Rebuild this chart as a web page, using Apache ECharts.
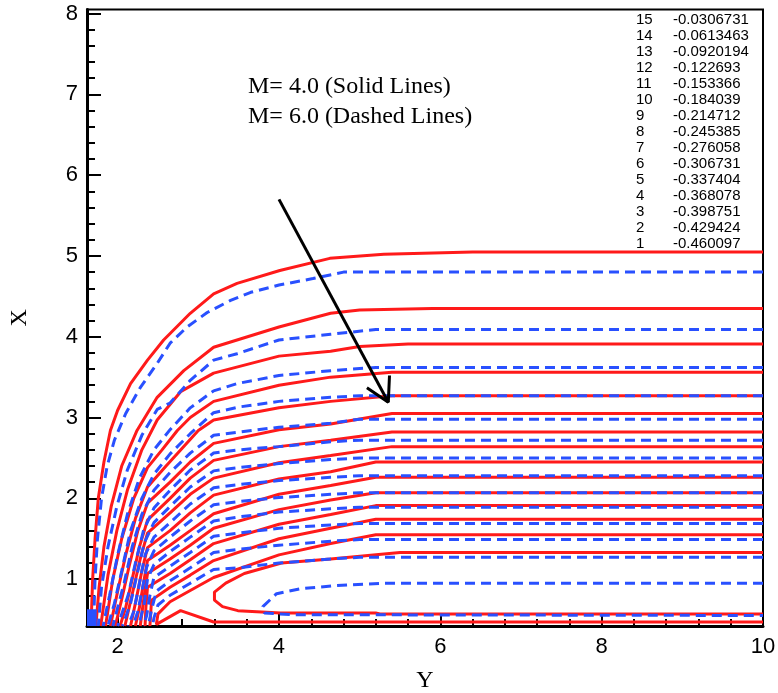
<!DOCTYPE html>
<html><head><meta charset="utf-8">
<script src="https://cdn.jsdelivr.net/npm/echarts@6/dist/echarts.min.js"></script>
<style>html,body{margin:0;padding:0;background:#fff}#c{width:778px;height:693px}</style>
</head><body><div id="c"></div>
<script>
// ---- tick labels ----
const xMajor = [2, 4, 6, 8, 10];
const xMinor = [2.4, 2.8, 3.2, 3.6, 4.4, 4.8, 5.2, 5.6, 6.4, 6.8, 7.2, 7.6, 8.4, 8.8, 9.2, 9.6];
const yMajor = [1, 2, 3, 4, 5, 6, 7, 8];
const yMinor = [0.6, 0.8, 1.2, 1.4, 1.6, 1.8, 2.2, 2.4, 2.6, 2.8, 3.2, 3.4, 3.6, 3.8, 4.2, 4.4, 4.6, 4.8, 5.2, 5.4, 5.6, 5.8, 6.2, 6.4, 6.6, 6.8, 7.2, 7.4, 7.6, 7.8];
// ---- contour legend ----
const levelIds = ['15','14','13','12','11','10','9','8','7','6','5','4','3','2','1'];
const levelVals = ['-0.0306731','-0.0613463','-0.0920194','-0.122693','-0.153366','-0.184039','-0.214712','-0.245385','-0.276058','-0.306731','-0.337404','-0.368078','-0.398751','-0.429424','-0.460097'];
const noteLines = ['M= 4.0 (Solid Lines)', 'M= 6.0 (Dashed Lines)'];
// ---- arrow (data coords) ----
const arrowShaft = [[4.0, 5.7], [5.355, 3.19]];
const arrowHead = [[5.09, 3.37], [5.355, 3.19], [5.37, 3.52]];
// ---- dense blue spot in the lower-left corner ----
const cornerBlock = [[1.62, 0.62], [1.74, 0.62]];

// ---- M = 4.0 contours (solid red) ----
const red15 = [[10,5.05],[6.4,5.05],[5.3,5.02],[4.63,4.97],[4.01,4.82],[3.48,4.66],[3.19,4.53],[2.9,4.29],[2.57,3.96],[2.37,3.71],[2.16,3.42],[2.0,3.09],[1.91,2.84],[1.83,2.45],[1.76,2.0],[1.72,1.5],[1.69,1.0],[1.67,0.42]];
const red14 = [[10,4.35],[5.9,4.35],[5.0,4.33],[4.64,4.29],[4.0,4.12],[3.19,3.87],[2.82,3.58],[2.49,3.25],[2.24,2.84],[2.05,2.4],[1.92,1.9],[1.83,1.4],[1.77,0.9],[1.73,0.42]];
const red13 = [[10,3.91],[5.6,3.91],[5.0,3.88],[4.64,3.82],[4.0,3.76],[3.19,3.55],[2.78,3.32],[2.49,2.97],[2.3,2.6],[2.12,2.1],[1.99,1.6],[1.88,1.05],[1.79,0.42]];
const red12 = [[10,3.56],[5.4,3.56],[4.64,3.5],[4.0,3.4],[3.19,3.2],[2.9,3.0],[2.74,2.84],[2.55,2.6],[2.37,2.38],[2.2,2.0],[2.05,1.5],[1.94,1.0],[1.85,0.42]];
const red11 = [[10,3.27],[5.4,3.27],[4.64,3.2],[4.0,3.12],[3.19,2.97],[3.0,2.84],[2.8,2.62],[2.6,2.4],[2.37,2.14],[2.22,1.75],[2.1,1.3],[2.0,0.85],[1.91,0.42]];
const red10 = [[10,3.05],[5.4,3.05],[4.64,2.92],[4.0,2.85],[3.19,2.68],[2.9,2.45],[2.65,2.2],[2.37,1.94],[2.25,1.6],[2.14,1.15],[2.05,0.75],[1.97,0.42]];
const red9 = [[10,2.82],[5.4,2.82],[4.64,2.72],[4.0,2.64],[3.19,2.47],[2.9,2.25],[2.65,2.0],[2.37,1.73],[2.27,1.4],[2.18,1.0],[2.1,0.65],[2.03,0.42]];
const red8 = [[10,2.64],[5.4,2.64],[4.64,2.53],[4.0,2.44],[3.19,2.25],[2.9,2.05],[2.65,1.82],[2.37,1.57],[2.28,1.25],[2.2,0.9],[2.09,0.42]];
const red7 = [[10,2.45],[5.2,2.45],[4.64,2.33],[4.0,2.24],[3.19,2.04],[2.9,1.82],[2.65,1.6],[2.37,1.39],[2.3,1.1],[2.23,0.75],[2.16,0.42]];
const red6 = [[10,2.26],[5.2,2.26],[4.64,2.16],[4.0,2.05],[3.19,1.81],[2.9,1.6],[2.65,1.42],[2.37,1.23],[2.32,0.95],[2.27,0.65],[2.22,0.42]];
const red5 = [[10,2.07],[5.2,2.07],[4.64,1.98],[4.0,1.86],[3.19,1.63],[2.9,1.42],[2.65,1.25],[2.37,1.07],[2.33,0.8],[2.28,0.42]];
const red4 = [[10,1.91],[5.2,1.91],[4.64,1.8],[4.0,1.68],[3.19,1.44],[2.9,1.24],[2.65,1.07],[2.37,0.9],[2.35,0.65],[2.34,0.42]];
const red3 = [[10,1.74],[5.2,1.74],[4.64,1.63],[4.0,1.5],[3.19,1.23],[2.9,1.05],[2.65,0.9],[2.42,0.74],[2.4,0.42]];
const red2 = [[10,1.55],[5.2,1.55],[4.64,1.44],[4.0,1.3],[3.19,1.02],[2.9,0.86],[2.65,0.72],[2.5,0.57],[2.48,0.44],[2.78,0.61],[3.19,0.47],[10,0.47]];
const red1 = [[10,1.33],[5.5,1.33],[4.64,1.25],[4.03,1.2],[3.57,1.07],[3.34,0.95],[3.2,0.84],[3.2,0.74],[3.3,0.66],[3.49,0.61],[4.02,0.58],[5.2,0.58],[5.25,0.57],[10,0.57]];

// ---- M = 6.0 contours (dashed blue) ----
const blue14 = [[10,4.80],[4.8,4.80],[4.42,4.72],[4.0,4.64],[3.65,4.55],[3.40,4.45],[3.11,4.30],[2.86,4.12],[2.65,3.92],[2.49,3.67],[2.28,3.37],[2.1,3.05],[1.96,2.72],[1.87,2.4],[1.8,2.0],[1.75,1.5],[1.72,1.0],[1.70,0.42]];
const blue13 = [[10,4.09],[5.2,4.09],[4.64,4.03],[4.0,3.96],[3.48,3.79],[3.19,3.71],[2.9,3.46],[2.65,3.18],[2.49,3.1],[2.3,2.78],[2.12,2.35],[1.99,1.9],[1.88,1.4],[1.8,0.9],[1.76,0.42]];
const blue12 = [[10,3.62],[5.2,3.62],[4.64,3.58],[4.0,3.52],[3.48,3.42],[3.19,3.33],[2.9,3.12],[2.65,2.85],[2.45,2.6],[2.27,2.25],[2.12,1.8],[2.0,1.3],[1.9,0.8],[1.82,0.42]];
const blue11 = [[10,3.27],[5.0,3.27],[4.64,3.25],[4.0,3.2],[3.5,3.13],[3.19,3.06],[2.9,2.8],[2.65,2.55],[2.45,2.3],[2.3,2.0],[2.16,1.6],[2.05,1.1],[1.96,0.7],[1.88,0.42]];
const blue10 = [[10,2.98],[5.0,2.98],[4.64,2.93],[4.0,2.88],[3.5,2.82],[3.19,2.78],[2.9,2.56],[2.65,2.32],[2.45,2.1],[2.3,1.8],[2.18,1.4],[2.08,0.95],[1.94,0.42]];
const blue9 = [[10,2.72],[5.0,2.72],[4.64,2.7],[4.0,2.64],[3.5,2.6],[3.19,2.56],[2.9,2.35],[2.65,2.1],[2.45,1.88],[2.32,1.6],[2.22,1.2],[2.13,0.8],[2.0,0.42]];
const blue8 = [[10,2.5],[5.0,2.5],[4.64,2.48],[4.0,2.43],[3.5,2.38],[3.19,2.34],[2.9,2.14],[2.65,1.9],[2.45,1.7],[2.33,1.45],[2.25,1.1],[2.16,0.7],[2.06,0.42]];
const blue7 = [[10,2.28],[5.0,2.28],[4.64,2.26],[4.0,2.22],[3.5,2.17],[3.19,2.13],[2.9,1.93],[2.65,1.7],[2.45,1.52],[2.34,1.3],[2.27,0.95],[2.2,0.6],[2.13,0.42]];
const blue6 = [[10,2.07],[5.0,2.07],[4.64,2.05],[4.0,2.01],[3.5,1.96],[3.19,1.92],[2.9,1.72],[2.65,1.52],[2.45,1.35],[2.36,1.15],[2.3,0.85],[2.25,0.6],[2.19,0.42]];
const blue5 = [[10,1.89],[5.0,1.89],[4.64,1.87],[4.0,1.83],[3.5,1.77],[3.19,1.72],[2.9,1.52],[2.65,1.34],[2.45,1.18],[2.37,1.0],[2.33,0.7],[2.26,0.42]];
const blue4 = [[10,1.69],[5.0,1.69],[4.64,1.67],[4.0,1.63],[3.5,1.57],[3.19,1.53],[2.9,1.33],[2.65,1.16],[2.45,1.02],[2.4,0.8],[2.36,0.55],[2.32,0.42]];
const blue3 = [[10,1.49],[5.0,1.49],[4.64,1.47],[4.0,1.42],[3.5,1.37],[3.19,1.33],[2.9,1.14],[2.65,0.98],[2.48,0.85],[2.42,0.62],[2.38,0.42]];
const blue2 = [[10,1.27],[5.0,1.27],[4.64,1.25],[4.0,1.2],[3.5,1.14],[3.19,1.12],[2.9,0.95],[2.65,0.8],[2.5,0.68],[2.45,0.52],[2.43,0.42]];
const blue1 = [[10,0.95],[5.3,0.95],[4.71,0.92],[4.26,0.88],[3.97,0.82],[3.8,0.66],[3.82,0.58],[4.2,0.56],[10,0.55]];

const redSet = [red15, red14, red13, red12, red11, red10, red9, red8, red7, red6, red5, red4, red3, red2, red1];
const blueSet = [blue14, blue13, blue12, blue11, blue10, blue9, blue8, blue7, blue6, blue5, blue4, blue3, blue2, blue1];

const RED = '#ff1a1a', BLUE = '#2950ff';
const series = [];
redSet.forEach(d => series.push({type:'line', data:d, showSymbol:false, silent:true, animation:false,
  lineStyle:{color:RED, width:3}, z:2}));
blueSet.forEach(d => series.push({type:'line', data:d, showSymbol:false, silent:true, animation:false,
  lineStyle:{color:BLUE, width:3, type:[10,6]}, z:3}));
series.push({type:'line', data:cornerBlock, showSymbol:false, silent:true, animation:false,
  lineStyle:{color:BLUE, width:1}, areaStyle:{color:BLUE, opacity:1, origin:'start'}, z:4});
series.push({type:'line', data:arrowShaft, showSymbol:false, silent:true, animation:false, lineStyle:{color:'#000', width:3}, z:5});
series.push({type:'line', data:arrowHead, showSymbol:false, silent:true, animation:false, lineStyle:{color:'#000', width:3}, z:5});

const graphics = [];
levelIds.forEach((id, i) => {
  graphics.push({type:'text', x:636, y:20 + i*16, z:10,
    style:{text:id, fill:'#000', font:'15px "Liberation Sans"', textVerticalAlign:'middle', textAlign:'left'}});
  graphics.push({type:'text', x:673, y:20 + i*16, z:10,
    style:{text:levelVals[i], fill:'#000', font:'15px "Liberation Sans"', textVerticalAlign:'middle', textAlign:'left'}});
});
noteLines.forEach((t, i) => {
  graphics.push({type:'text', x:248, y:87 + i*30, z:10,
    style:{text:t, fill:'#000', font:'24px "Liberation Serif"', textVerticalAlign:'middle', textAlign:'left'}});
});

const tickFont = {fontSize:22, fontFamily:'Liberation Sans', color:'#000'};
const chart = echarts.init(document.getElementById('c'), null, {renderer:'canvas'});
chart.setOption({
  animation:false,
  backgroundColor:'#fff',
  grid:{left:87, right:15, top:9.5, bottom:67, containLabel:false, outerBoundsMode:'none',
        show:true, borderColor:'#000', borderWidth:2, backgroundColor:'transparent'},
  xAxis:[
    {type:'value', min:1.62, max:10, position:'bottom',
     axisLine:{show:true, lineStyle:{color:'#000', width:3}},
     axisTick:{show:true, inside:true, length:13, lineStyle:{color:'#000', width:2}, customValues:xMajor},
     axisLabel:Object.assign({customValues:xMajor, margin:10}, tickFont),
     splitLine:{show:false},
     name:'Y', nameLocation:'middle', nameGap:43,
     nameTextStyle:{fontFamily:'Liberation Serif', fontSize:24, color:'#000'}},
    {type:'value', min:1.62, max:10, position:'bottom',
     axisLine:{show:false}, axisLabel:{show:false}, splitLine:{show:false},
     axisTick:{show:true, inside:true, length:7, lineStyle:{color:'#000', width:2}, customValues:xMinor}}
  ],
  yAxis:[
    {type:'value', min:0.42, max:8.05, position:'left',
     axisLine:{show:true, lineStyle:{color:'#000', width:3}},
     axisTick:{show:true, inside:true, length:14, lineStyle:{color:'#000', width:2}, customValues:yMajor},
     axisLabel:Object.assign({customValues:yMajor, margin:9}, tickFont),
     splitLine:{show:false},
     name:'X', nameLocation:'middle', nameGap:55, nameRotate:90,
     nameTextStyle:{fontFamily:'Liberation Serif', fontSize:24, color:'#000'}},
    {type:'value', min:0.42, max:8.05, position:'left',
     axisLine:{show:false}, axisLabel:{show:false}, splitLine:{show:false},
     axisTick:{show:true, inside:true, length:8, lineStyle:{color:'#000', width:2}, customValues:yMinor}}
  ],
  series:series,
  graphic:graphics
});
</script></body></html>
